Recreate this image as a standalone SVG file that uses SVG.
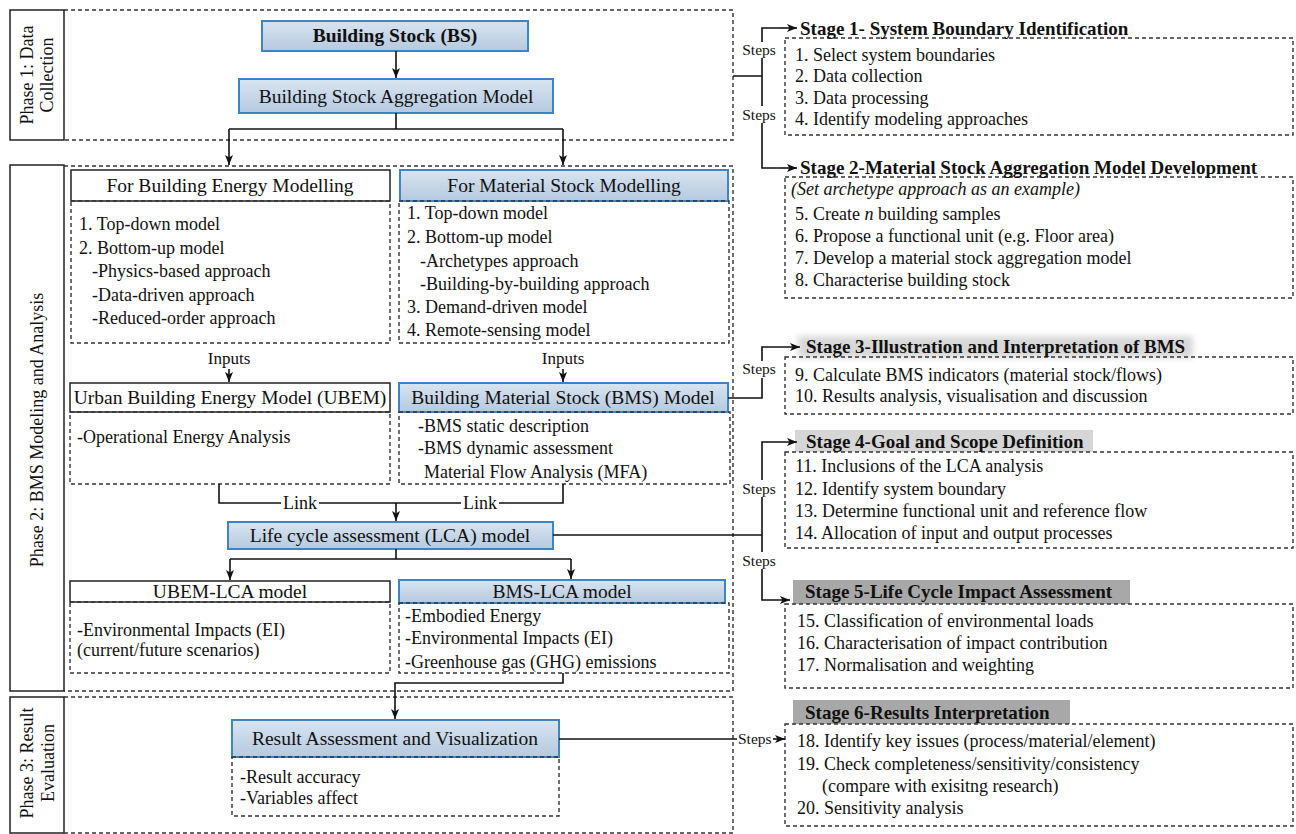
<svg xmlns="http://www.w3.org/2000/svg" width="1296" height="834" viewBox="0 0 1296 834">
<defs>
<linearGradient id="blue" x1="0" y1="0" x2="0" y2="1"><stop offset="0" stop-color="#d9e4f0"/><stop offset="1" stop-color="#b5c9df"/></linearGradient>
<marker id="arr" viewBox="0 0 10 8" refX="10" refY="4" markerWidth="10" markerHeight="8" markerUnits="userSpaceOnUse" orient="auto"><path d="M0,0 L10,4 L0,8 L2.5,4 z" fill="#111"/></marker>
<filter id="blur" x="-10%" y="-50%" width="120%" height="200%"><feGaussianBlur stdDeviation="3"/></filter>
</defs>
<style>
text{font-family:"Liberation Serif","Times New Roman",serif;fill:#111}
.t{font-size:19.5px;text-anchor:middle}
.tb{font-size:19.5px;text-anchor:middle;font-weight:bold}
.i{font-size:18px}
.r{font-size:18px}
.st{font-size:19px;font-weight:bold}
.s{font-size:15.5px}
.in{font-size:17px;text-anchor:middle}
.ph{font-size:18px;text-anchor:middle}
.dash{fill:none;stroke:#333;stroke-width:1.4;stroke-dasharray:4 3}
.bl{fill:url(#blue);stroke:#3d86c6;stroke-width:2}
.wh{fill:#fff;stroke:#222;stroke-width:1.5}
.ln{fill:none;stroke:#111;stroke-width:1.6}
.lab{fill:#fff;stroke:#222;stroke-width:1.5}
</style>
<rect width="1296" height="834" fill="#fff"/>

<g id="phase1">
<rect class="lab" x="10" y="10" width="54" height="130"/>
<text class="ph" transform="translate(33,75) rotate(-90)">Phase 1: Data</text>
<text class="ph" transform="translate(53,75) rotate(-90)">Collection</text>
<path class="dash" d="M64,10 H733 V140 H64"/>
</g>
<g id="phase2">
<rect class="lab" x="10" y="165" width="54" height="526"/>
<text class="ph" transform="translate(43,430) rotate(-90)">Phase 2: BMS Modeling and Analysis</text>
<path class="dash" d="M64,166 H733 V691 H64"/>
</g>
<g id="phase3">
<rect class="lab" x="10" y="697" width="54" height="136"/>
<text class="ph" transform="translate(33,763) rotate(-90)">Phase 3: Result</text>
<text class="ph" transform="translate(54,763) rotate(-90)">Evaluation</text>
<path class="dash" d="M64,697 H733 V833 H64"/>
</g>

<g id="bs"><rect class="bl" x="262" y="21" width="266" height="30"/><text class="tb" x="395" y="42">Building Stock (BS)</text></g>
<g id="bsam"><rect class="bl" x="239" y="79" width="314" height="34"/><text class="t" x="396" y="103">Building Stock Aggregation Model</text></g>

<g id="fbem">
<rect class="wh" x="71" y="170" width="319" height="31"/><text class="t" x="230" y="192">For Building Energy Modelling</text>
<rect class="dash" x="71" y="201" width="319" height="142"/>
<text class="i" x="79" y="230">1. Top-down model</text>
<text class="i" x="79" y="254">2. Bottom-up model</text>
<text class="i" x="92" y="277">-Physics-based approach</text>
<text class="i" x="92" y="301">-Data-driven approach</text>
<text class="i" x="92" y="324">-Reduced-order approach</text>
</g>
<g id="fmsm">
<rect class="bl" x="400" y="170" width="328" height="31"/><text class="t" x="564" y="192">For Material Stock Modelling</text>
<rect class="dash" x="399" y="201" width="330" height="142"/>
<text class="i" x="407" y="219">1. Top-down model</text>
<text class="i" x="407" y="243">2. Bottom-up model</text>
<text class="i" x="420" y="267">-Archetypes approach</text>
<text class="i" x="420" y="290">-Building-by-building approach</text>
<text class="i" x="407" y="313">3. Demand-driven model</text>
<text class="i" x="407" y="336">4. Remote-sensing model</text>
</g>
<g id="ubem">
<rect class="wh" x="70" y="383" width="320" height="29"/><text class="t" x="230" y="404">Urban Building Energy Model (UBEM)</text>
<rect class="dash" x="70" y="412" width="320" height="72"/>
<text class="i" x="77" y="443">-Operational Energy Analysis</text>
</g>
<g id="bms">
<rect class="bl" x="399" y="383" width="329" height="29"/><text class="t" x="563" y="404">Building Material Stock (BMS) Model</text>
<rect class="dash" x="399" y="412" width="331" height="72"/>
<text class="i" x="418" y="432">-BMS static description</text>
<text class="i" x="418" y="454">-BMS dynamic assessment</text>
<text class="i" x="424" y="478">Material Flow Analysis (MFA)</text>
</g>
<g id="lca"><rect class="bl" x="228" y="522" width="325" height="27"/><text class="t" x="390" y="542">Life cycle assessment (LCA) model</text></g>
<g id="ubemlca">
<rect class="wh" x="70" y="581" width="320" height="21"/><text class="t" x="230" y="598">UBEM-LCA model</text>
<rect class="dash" x="70" y="602" width="320" height="71"/>
<text class="i" x="77" y="636">-Environmental Impacts (EI)</text>
<text class="i" x="77" y="656">(current/future scenarios)</text>
</g>
<g id="bmslca">
<rect class="bl" x="399" y="580" width="326" height="23"/><text class="t" x="562" y="598">BMS-LCA model</text>
<rect class="dash" x="399" y="603" width="330" height="70"/>
<text class="i" x="405" y="622">-Embodied Energy</text>
<text class="i" x="405" y="644">-Environmental Impacts (EI)</text>
<text class="i" x="405" y="668">-Greenhouse gas (GHG) emissions</text>
</g>
<g id="result">
<rect class="bl" x="232" y="720" width="327" height="37"/><text class="t" x="395" y="745">Result Assessment and Visualization</text>
<rect class="dash" x="232" y="757" width="327" height="59"/>
<text class="i" x="240" y="783">-Result accuracy</text>
<text class="i" x="240" y="804">-Variables affect</text>
</g>

<g id="stage1">
<rect class="dash" x="785" y="38" width="508" height="97"/>
<text class="st" x="800" y="35">Stage 1- System Boundary Identification</text>
<text class="r" x="795" y="61">1. Select system boundaries</text>
<text class="r" x="795" y="82">2. Data collection</text>
<text class="r" x="795" y="104">3. Data processing</text>
<text class="r" x="795" y="125">4. Identify modeling approaches</text>
</g>
<g id="stage2">
<rect class="dash" x="785" y="177" width="508" height="121"/>
<text class="st" x="800" y="174">Stage 2-Material Stock Aggregation Model Development</text>
<text class="r" x="791" y="195" font-style="italic">(Set archetype approach as an example)</text>
<text class="r" x="795" y="220">5. Create <tspan font-style="italic">n</tspan> building samples</text>
<text class="r" x="795" y="242">6. Propose a functional unit (e.g. Floor area)</text>
<text class="r" x="795" y="264">7. Develop a material stock aggregation model</text>
<text class="r" x="795" y="286">8. Characterise building stock</text>
</g>
<g id="stage3">
<rect x="798" y="336" width="395" height="22" fill="#d8d8d8" filter="url(#blur)"/>
<rect class="dash" x="785" y="357" width="508" height="57"/>
<text class="st" x="806" y="353">Stage 3-Illustration and Interpretation of BMS</text>
<text class="r" x="795" y="381">9. Calculate BMS indicators (material stock/flows)</text>
<text class="r" x="795" y="402">10. Results analysis, visualisation and discussion</text>
</g>
<g id="stage4">
<rect x="795" y="430" width="298" height="22" fill="#d6d6d6"/>
<rect class="dash" x="785" y="452" width="508" height="96"/>
<text class="st" x="806" y="448">Stage 4-Goal and Scope Definition</text>
<text class="r" x="795" y="472">11. Inclusions of the LCA analysis</text>
<text class="r" x="795" y="495">12. Identify system boundary</text>
<text class="r" x="795" y="517">13. Determine functional unit and reference flow</text>
<text class="r" x="795" y="539">14. Allocation of input and output processes</text>
</g>
<g id="stage5">
<rect x="793" y="580" width="337" height="24" fill="#a8a8a8"/>
<rect class="dash" x="785" y="604" width="508" height="84"/>
<text class="st" x="805" y="598">Stage 5-Life Cycle Impact Assessment</text>
<text class="r" x="797" y="627">15. Classification of environmental loads</text>
<text class="r" x="797" y="649">16. Characterisation of impact contribution</text>
<text class="r" x="797" y="671">17. Normalisation and weighting</text>
</g>
<g id="stage6">
<rect x="793" y="700" width="277" height="24" fill="#a8a8a8"/>
<rect class="dash" x="785" y="724" width="508" height="102"/>
<text class="st" x="805" y="719">Stage 6-Results Interpretation</text>
<text class="r" x="797" y="747">18. Identify key issues (process/material/element)</text>
<text class="r" x="797" y="770">19. Check completeness/sensitivity/consistency</text>
<text class="r" x="822" y="792">(compare with exisitng research)</text>
<text class="r" x="797" y="814">20. Sensitivity analysis</text>
</g>

<g id="connectors">
<path class="ln" d="M396,51 V78" marker-end="url(#arr)"/>
<path class="ln" d="M396,113 V129 M229,129 H563"/>
<path class="ln" d="M229,129 V165" marker-end="url(#arr)"/>
<path class="ln" d="M563,129 V165" marker-end="url(#arr)"/>
<text class="in" x="229" y="364">Inputs</text>
<path class="ln" d="M229,369 V382" marker-end="url(#arr)"/>
<text class="in" x="563" y="364">Inputs</text>
<path class="ln" d="M563,369 V382" marker-end="url(#arr)"/>
<path class="ln" d="M219,484 V503 H281 M319,503 H396 M563,484 V503 H499 M461,503 H396"/>
<text class="i" x="300" y="509" text-anchor="middle">Link</text>
<text class="i" x="480" y="509" text-anchor="middle">Link</text>
<path class="ln" d="M396,503 V521" marker-end="url(#arr)"/>
<path class="ln" d="M396,549 V559 M230,559 H571"/>
<path class="ln" d="M230,559 V580" marker-end="url(#arr)"/>
<path class="ln" d="M571,559 V579" marker-end="url(#arr)"/>
<path class="ln" d="M563,673 V683 H395 V719" marker-end="url(#arr)"/>
<path class="ln" d="M559,739 H737"/>
<text class="s" x="738" y="744">Steps</text>
<path class="ln" d="M773,739 H785" marker-end="url(#arr)"/>
<path class="ln" d="M733,76 H762 M762,42 V28 H780 M762,58 V106 M762,123 V168 H780"/>
<path class="ln" d="M780,28 H797" marker-end="url(#arr)"/>
<path class="ln" d="M780,168 H797" marker-end="url(#arr)"/>
<text class="s" x="759" y="55" text-anchor="middle">Steps</text>
<text class="s" x="759" y="120" text-anchor="middle">Steps</text>
<path class="ln" d="M728,398 H762 V378 M762,361 V347 H800" marker-end="url(#arr)"/>
<text class="s" x="759" y="374" text-anchor="middle">Steps</text>
<path class="ln" d="M553,535 H762 M762,480 V442 H797" marker-end="url(#arr)"/>
<path class="ln" d="M762,497 V552 M762,569 V600 H790" marker-end="url(#arr)"/>
<text class="s" x="759" y="494" text-anchor="middle">Steps</text>
<text class="s" x="759" y="566" text-anchor="middle">Steps</text>
</g>
</svg>
